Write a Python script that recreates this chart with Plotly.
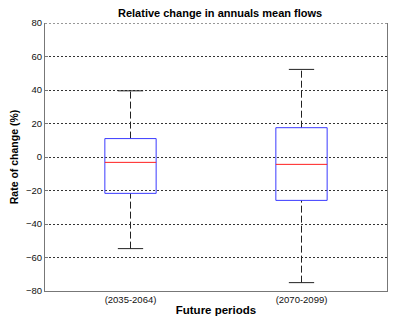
import plotly.graph_objects as go

categories = ["(2035-2064)", "(2070-2099)"]
whisker_low = [-54.7, -75.0]
q1 = [-21.7, -25.9]
median = [-3.2, -4.4]
q3 = [11.0, 17.5]
whisker_high = [39.5, 52.3]
y_ticks = [-80, -60, -40, -20, 0, 20, 40, 60, 80]

BOX_HW = 0.15
CAP_HW = 0.074

fig = go.Figure()
for i, cat in enumerate(categories):
    for a, b in [(q3[i], whisker_high[i]), (whisker_low[i], q1[i])]:
        fig.add_trace(go.Scatter(x=[i, i], y=[a, b], mode="lines",
                                 line=dict(color="#222", width=1, dash="7px,3px"),
                                 showlegend=False, hoverinfo="skip"))
    for v in [whisker_high[i], whisker_low[i]]:
        fig.add_trace(go.Scatter(x=[i - CAP_HW, i + CAP_HW], y=[v, v], mode="lines",
                                 line=dict(color="#222", width=1),
                                 showlegend=False, hoverinfo="skip"))
    fig.add_trace(go.Scatter(x=[i - BOX_HW, i + BOX_HW, i + BOX_HW, i - BOX_HW, i - BOX_HW],
                             y=[q1[i], q1[i], q3[i], q3[i], q1[i]], mode="lines",
                             line=dict(color="#3a3aff", width=1),
                             showlegend=False, hoverinfo="skip"))
    fig.add_trace(go.Scatter(x=[i - BOX_HW, i + BOX_HW], y=[median[i], median[i]], mode="lines",
                             line=dict(color="#ff2020", width=1),
                             showlegend=False, hoverinfo="skip"))

fig.add_shape(type="line", xref="paper", yref="y", x0=0, x1=1, y0=y_ticks[-1], y1=y_ticks[-1],
              line=dict(color="#333", width=1, dash="2px,2px"), layer="above")

fig.update_layout(
    width=392, height=314,
    margin=dict(l=37, r=13, t=15, b=31, autoexpand=False),
    paper_bgcolor="white", plot_bgcolor="white",
    font=dict(family="Liberation Sans, Arial, sans-serif", size=9.5, color="#222"),
    title=dict(text="<b>Relative change in annuals mean flows</b>", x=0.541, xanchor="center",
               y=0.984, yanchor="middle", font=dict(size=11, color="#000")),
    showlegend=False,
)
fig.update_xaxes(
    range=[-0.5, 1.5], tickmode="array", tickvals=[0, 1], ticktext=categories,
    showgrid=False, zeroline=False, showline=True, linecolor="#777", linewidth=1,
    mirror=False, ticks="", tickfont=dict(size=9.5, color="#111"), automargin=False,
    title=dict(text="<b>Future periods</b>", standoff=1, font=dict(size=11.5, color="#000")),
)
fig.update_yaxes(
    range=[-80, 80], tickmode="array", tickvals=y_ticks,
    showgrid=True, gridcolor="#333", griddash="2px,2px", gridwidth=1,
    zeroline=False, showline=True, linecolor="#777", linewidth=1, mirror=True,
    ticks="inside", ticklen=3, tickcolor="#777", tickfont=dict(size=9.5, color="#111"),
    automargin=False,
    title=dict(text="<b>Rate of change (%)</b>", standoff=12, font=dict(size=10.5, color="#000")),
)

fig.write_html("out.html")
